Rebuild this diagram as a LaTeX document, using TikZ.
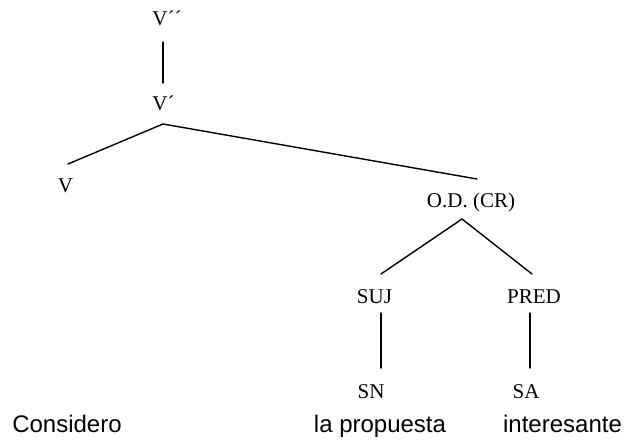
\documentclass[tikz,border=0pt]{standalone}
\usepackage{fontspec}
\setmainfont{Liberation Serif}
\newfontfamily\wordfont{Liberation Sans}
\begin{document}
\begin{tikzpicture}[x=1pt,y=-1pt,
  cat/.style={anchor=base,inner sep=0pt,font=\fontsize{21}{21}\selectfont},
  word/.style={anchor=base,inner sep=0pt,font=\wordfont\fontsize{24}{24}\selectfont},
  branch/.style={line width=1.4pt,line cap=round}]
  \useasboundingbox (0,0) rectangle (629,442);
  % category labels
  \node[cat] (vpp) at (160,25) {V\rlap{´´}};
  \node[cat] (vp)  at (160,110) {V\rlap{´}};
  \node[cat] (v)   at (65.5,192) {V};
  \node[cat] (od)  at (471,207) {O.D. (CR)};
  \node[cat] (suj) at (374.5,303) {SUJ};
  \node[cat] (pred) at (534,303) {PRED};
  \node[cat] (sn)  at (371,398) {SN};
  \node[cat] (sa)  at (526,398) {SA};
  % words
  \node[word] (w1) at (67,432) {Considero};
  \node[word] (w2) at (380,432) {la propuesta};
  \node[word] (w3) at (562.5,432) {interesante};
  % branch end points
  \coordinate (vppB) at (163,42);
  \coordinate (vpT)  at (163,83);
  \coordinate (vpB)  at (163,124);
  \coordinate (vT)   at (68,164);
  \coordinate (odT)  at (477,179);
  \coordinate (odB)  at (462,219);
  \coordinate (sujT) at (381,274);
  \coordinate (predT) at (532,274);
  \coordinate (sujB) at (381,313);
  \coordinate (snT)  at (381,368);
  \coordinate (predB) at (530,313);
  \coordinate (saT)  at (530,368);
  % branches
  \draw[branch] (vppB) -- (vpT);
  \draw[branch] (vT) -- (vpB) -- (odT);
  \draw[branch] (sujT) -- (odB) -- (predT);
  \draw[branch] (sujB) -- (snT);
  \draw[branch] (predB) -- (saT);
\end{tikzpicture}
\end{document}
